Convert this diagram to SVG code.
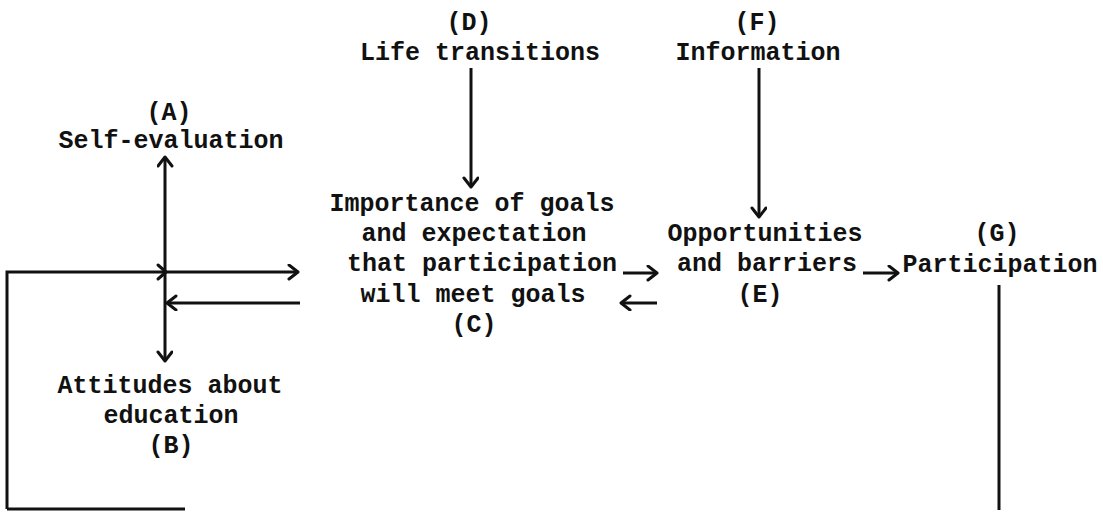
<svg xmlns="http://www.w3.org/2000/svg" width="1103" height="516" viewBox="0 0 1103 516">
<style>
text { font-family: "Liberation Mono", "Courier New", monospace; font-weight: bold; font-size: 25px; fill: #111; text-anchor: middle; }
.ln { stroke: #111; stroke-width: 3; fill: none; }
.head { stroke: #111; stroke-width: 3; fill: none; stroke-linecap: round; stroke-linejoin: round; }
</style>
<defs>
<marker id="arr" markerUnits="userSpaceOnUse" markerWidth="14" markerHeight="18" refX="11" refY="8" orient="auto-start-reverse" viewBox="0 0 14 18">
<path d="M2,1 L11,8 L2,15" fill="none" stroke="#111" stroke-width="3" stroke-linecap="round" stroke-linejoin="round"/>
</marker>
</defs>
<rect width="1103" height="516" fill="#fff"/>
<g id="nodeA"><text x="169" y="120">(A)</text><text x="171" y="148">Self-evaluation</text></g>
<g id="nodeB"><text x="170" y="393">Attitudes about</text><text x="171" y="423">education</text><text x="171" y="453">(B)</text></g>
<g id="nodeC"><text x="472" y="211">Importance of goals</text><text x="474" y="241">and expectation</text><text x="482" y="271">that participation</text><text x="473" y="302">will meet goals</text><text x="474" y="332">(C)</text></g>
<g id="nodeD"><text x="469" y="30">(D)</text><text x="480" y="60">Life transitions</text></g>
<g id="nodeE"><text x="765" y="241">Opportunities</text><text x="767" y="271">and barriers</text><text x="760" y="302">(E)</text></g>
<g id="nodeF"><text x="757" y="30">(F)</text><text x="758" y="60">Information</text></g>
<g id="nodeG"><text x="997" y="241">(G)</text><text x="1000" y="272">Participation</text></g>
<g id="connectors">
<path class="ln" d="M165,157 L165,361" marker-start="url(#arr)" marker-end="url(#arr)"/>
<path class="ln" d="M7,509 L7,272 L298,272" marker-end="url(#arr)"/>
<path class="head" d="M158,265 L166,272 L158,279"/>
<path class="ln" d="M300,303 L167,303" marker-end="url(#arr)"/>
<path class="ln" d="M471,68 L471,187" marker-end="url(#arr)"/>
<path class="ln" d="M759,68 L759,217" marker-end="url(#arr)"/>
<path class="ln" d="M623,273 L657,273" marker-end="url(#arr)"/>
<path class="ln" d="M657,303 L621,303" marker-end="url(#arr)"/>
<path class="ln" d="M863,273 L898,273" marker-end="url(#arr)"/>
<path class="ln" d="M999,285 L999,510"/>
<path class="ln" d="M7,509 L185,509"/>
</g>
</svg>
